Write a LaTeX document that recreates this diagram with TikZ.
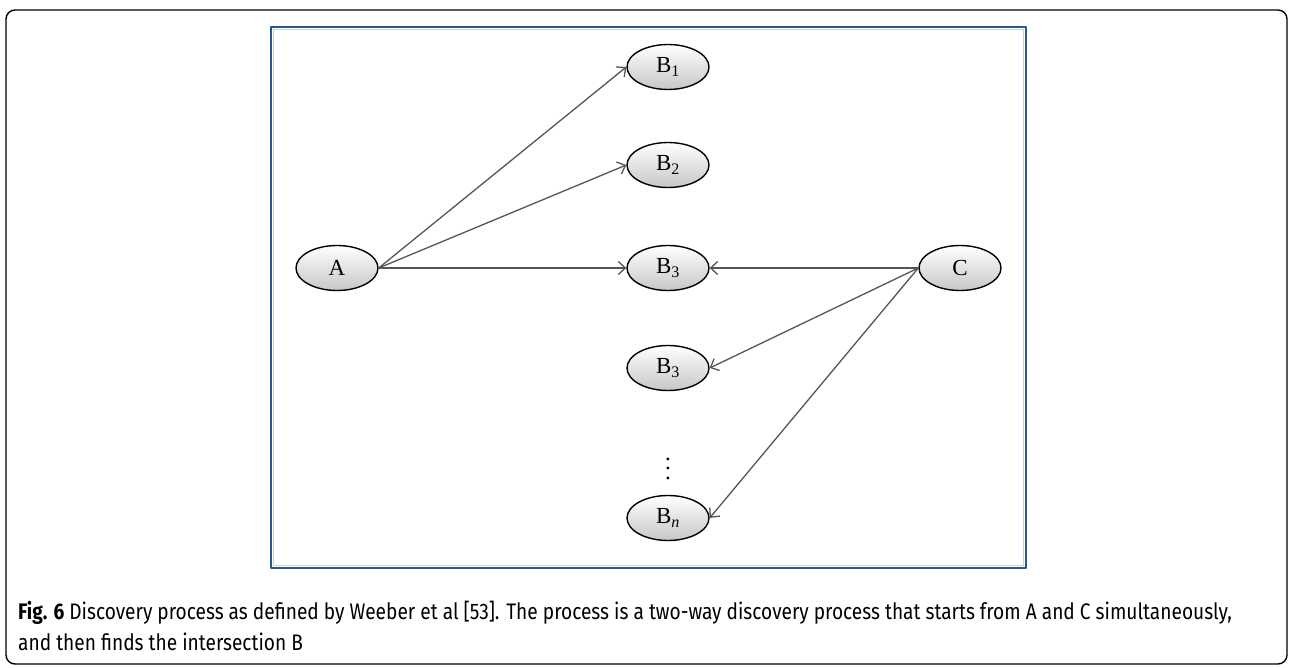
\documentclass[tikz,border=0pt]{standalone}
\usepackage{fontspec}
\setmainfont{Liberation Serif}
\newfontfamily\capfont[FakeStretch=0.85]{Fira Sans}
\usetikzlibrary{shapes.geometric}
\usetikzlibrary{arrows.meta}
\usetikzlibrary{positioning}
\definecolor{boxblue}{RGB}{44,86,138}
\definecolor{boxlight}{RGB}{190,210,232}
\definecolor{linkgray}{RGB}{85,85,85}

\begin{document}
\begin{tikzpicture}[x=1pt, y=-1pt, line cap=round, line join=round,
    term/.style={ellipse, draw, line width=1.4pt, minimum width=82pt, minimum height=45pt,
      inner sep=0pt, top color=white, bottom color=black!22, font=\fontsize{23}{27}\selectfont},
    link/.style={draw=linkgray, line width=1.3pt, -{Straight Barb[length=7pt,width=13pt]}},
    captext/.style={anchor=base west, inner sep=0pt, font=\capfont\fontsize{22.5}{27}\selectfont}]
  \useasboundingbox (0,0) rectangle (1292,668);
  %--- frame
    \draw[line width=1.4pt, rounded corners=9pt] (6,10) rectangle (1287,664);
    \draw[boxlight, line width=1pt] (273.5,29.5) rectangle (1023.5,565.5);
    \draw[boxblue, line width=2.2pt] (271,27) rectangle (1026,568);
  %--- terms
    \node[term] (a) at (337,268) {A};
    \node[term] (c) at (960,268) {C};
    \node[term] (b1) at (668,67) {B\textsubscript{1}};
    \node[term] (b2) at (668,165) {B\textsubscript{2}};
    \node[term] (b3) at (668,268) {B\textsubscript{3}};
    \node[term] (b4) at (668,368) {B\textsubscript{3}};
    \node[inner sep=0pt] (dots) at (668,462) {\scalebox{2.3}{$\vdots$}};
    \node[term] (bn) at (668,518) {B\textsubscript{\textit{n}}};
  %--- A to B
    \draw[link] (a.east) -- (b1.west);
    \draw[link] (a.east) -- (b2.west);
    \draw[link] (a.east) -- (b3.west);
  %--- C to B
    \draw[link] (c.west) -- (b3.east);
    \draw[link] (c.west) -- (b4.east);
    \draw[link] (c.west) -- (bn.east);
  %--- caption
    \node[captext] (cap1) at (18,619) {\textbf{Fig. 6} Discovery process as defined by Weeber et al [53]. The process is a two-way discovery process that starts from A and C simultaneously,};
    \node[captext] (cap2) at (18,650) {and then finds the intersection B};
\end{tikzpicture}
\end{document}
